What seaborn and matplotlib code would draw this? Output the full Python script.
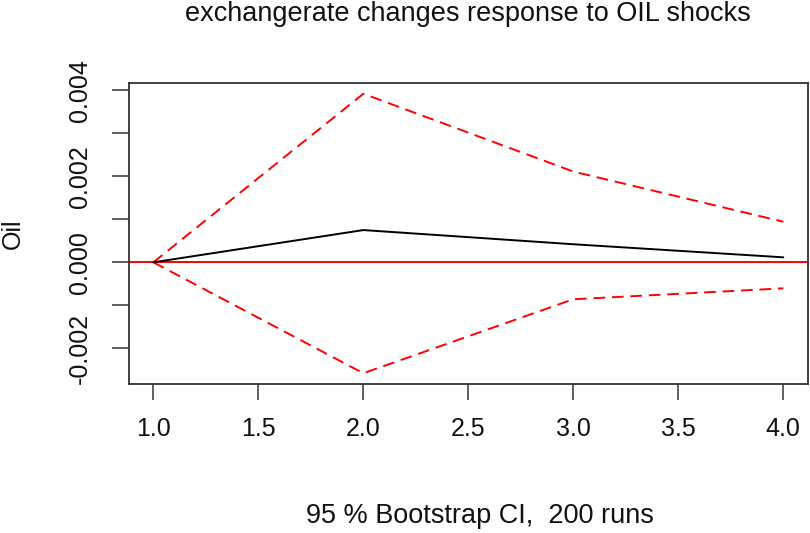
import numpy as np
import pandas as pd
import matplotlib
matplotlib.use("Agg")
import matplotlib.pyplot as plt
import seaborn as sns

horizon = [1, 2, 3, 4]
irf = [0.0, 0.00075, 0.00042, 0.000116]
upper = [0.0, 0.00392, 0.00211, 0.000944]
lower = [0.0, -0.00258, -0.00086, -0.000605]
xticks = [1.0, 1.5, 2.0, 2.5, 3.0, 3.5, 4.0]
yticks = [-0.002, -0.001, 0.0, 0.001, 0.002, 0.003, 0.004]
ylabels_shown = {-0.002: "-0.002", 0.0: "0.000", 0.002: "0.002", 0.004: "0.004"}
title = "exchangerate changes response to OIL shocks"
xlabel = "95 % Bootstrap CI,  200 runs"
ylabel = "Oil"

sns.set_theme(style="ticks")
plt.rcParams['font.family'] = ['Liberation Sans', 'DejaVu Sans']

df = pd.DataFrame({"h": horizon, "irf": irf, "upper": upper, "lower": lower})

W, H = 810, 533
fig = plt.figure(figsize=(W / 100, H / 100), dpi=100)
ax = fig.add_axes([129 / W, 1 - 384 / H, (808.3 - 129) / W, (384 - 83) / H])

ax.axhline(0, color="#ff0000", lw=1.4, zorder=1)
sns.lineplot(data=df, x="h", y="irf", ax=ax, color="black", lw=1.4, zorder=3)
sns.lineplot(data=df, x="h", y="upper", ax=ax, color="#ff0000", lw=1.4, zorder=2)
sns.lineplot(data=df, x="h", y="lower", ax=ax, color="#ff0000", lw=1.4, zorder=2)
for ln in ax.lines[-2:]:
    ln.set_dashes((6, 3.5))

ax.set_xlim(0.884, 4.119)
ax.set_ylim(-0.00283, 0.00417)
ax.set_xticks(xticks)
ax.set_xticklabels([f"{v:.1f}" for v in xticks])
ax.set_yticks(yticks)
ax.set_yticklabels([ylabels_shown.get(round(v, 3), "") for v in yticks],
                   rotation=90, va="center")
ax.tick_params(axis="x", length=11.5, width=1.1, color="#333333",
               labelsize=18, pad=12, labelcolor="#111111")
ax.tick_params(axis="y", length=12, width=1.1, color="#333333",
               labelsize=18, pad=15, labelcolor="#111111")
for s in ax.spines.values():
    s.set_linewidth(1.3)
    s.set_color("#333333")
ax.set_xlabel("")
ax.set_ylabel("")

fig.text(480 / W, 1 - 523 / H, xlabel, ha="center", va="baseline",
         fontsize=19.5, color="#111111")
fig.text(12.7 / W, 1 - 234 / H, ylabel, ha="center", va="center",
         rotation=90, fontsize=18, color="#111111")
fig.text(467.5 / W, 1 - 20.7 / H, title, ha="center", va="baseline",
         fontsize=19.5, color="#111111")

fig.savefig("out.png", dpi=100)
